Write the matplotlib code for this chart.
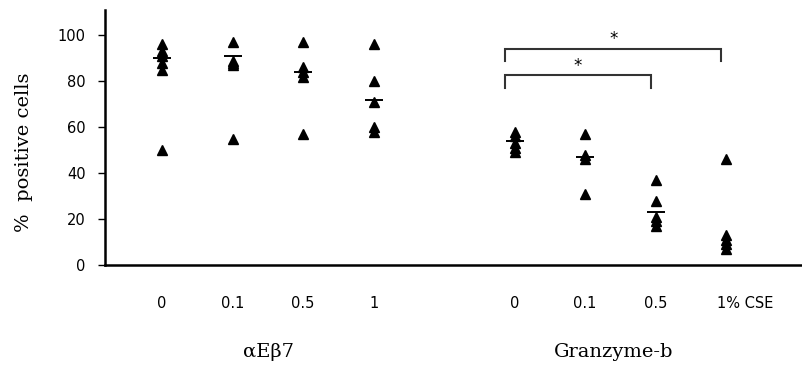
import matplotlib
matplotlib.use("Agg")
import matplotlib.pyplot as plt
from matplotlib.transforms import ScaledTranslation

# ---- data ----
tick_labels = ["0", "0.1", "0.5", "1", "0", "0.1", "0.5", "1% CSE"]
positions = [0, 1, 2, 3, 5, 6, 7, 8]
aeb7_0 = [96, 93, 91, 88, 85, 50]
aeb7_01 = [97, 89, 88, 87, 55]
aeb7_05 = [97, 86, 84, 82, 57]
aeb7_1 = [96, 80, 71, 60, 58]
gzb_0 = [58, 56, 53, 51, 49]
gzb_01 = [57, 48, 46, 31]
gzb_05 = [37, 28, 21, 19, 17]
gzb_1 = [46, 13, 11, 9, 7]
groups = [aeb7_0, aeb7_01, aeb7_05, aeb7_1, gzb_0, gzb_01, gzb_05, gzb_1]
means = [90, 91, 84, 72, 54, 47, 23, None]
group_names = ["αEβ7", "Granzyme-b"]
yticks = [0, 20, 40, 60, 80, 100]
# significance brackets: (left group index, right group index, bracket height, leg bottom)
brackets = [(4, 7, 94, 89), (4, 6, 82.5, 77)]

sans = ["DejaVu Sans"]
serif = ["DejaVu Serif"]

fig = plt.figure(figsize=(8.03, 3.70), dpi=100)
ax = fig.add_axes([105 / 803, 105 / 370, 1 - 105 / 803, 255 / 370])

for pos, vals in zip(positions, groups):
    ax.plot([pos] * len(vals), vals, linestyle="none", marker="^",
            markersize=7, color="black", clip_on=False)
for pos, m in zip(positions, means):
    if m is not None:
        ax.plot([pos], [m], linestyle="none", marker="_", markersize=13,
                markeredgewidth=1.4, color="black")

for li, ri, h, b in brackets:
    x0 = positions[li] - 0.13
    x1 = positions[ri] - 0.07
    ax.plot([x0, x0, x1, x1], [b, h, h, b], color="#333333", lw=1.5,
            solid_joinstyle="miter")
    ax.text((x0 + x1) / 2, h + 0.3, "*", ha="center", va="bottom",
            fontsize=12, family=sans)

ax.set_xlim(-0.81, 9.09)
ax.set_ylim(0, 111)
ax.set_yticks(yticks)
ax.set_yticklabels([str(t) for t in yticks], family=sans, fontsize=10.5)
ax.set_xticks(positions)
ax.set_xticklabels(tick_labels, family=sans, fontsize=10.5)
ax.tick_params(axis="x", length=0, pad=22)
ax.tick_params(axis="y", length=5, width=1, direction="out", pad=9)
last = ax.get_xticklabels()[-1]
last.set_horizontalalignment("left")
last.set_transform(last.get_transform() + ScaledTranslation(-0.09, 0, fig.dpi_scale_trans))
for s in ["top", "right"]:
    ax.spines[s].set_visible(False)
ax.spines["left"].set_linewidth(1.8)
ax.spines["bottom"].set_linewidth(1.8)

ax.set_ylabel("%  positive cells", family=serif, fontsize=14)
ax.yaxis.set_label_coords(-(105 - 33) / 698, (265 - 152) / 255)

fig.text(269 / 803, 1 - 352 / 370, group_names[0], ha="center", va="center",
         family=serif, fontsize=14)
fig.text(614 / 803, 1 - 352 / 370, group_names[1], ha="center", va="center",
         family=serif, fontsize=14)

fig.savefig("out.png", dpi=100)
